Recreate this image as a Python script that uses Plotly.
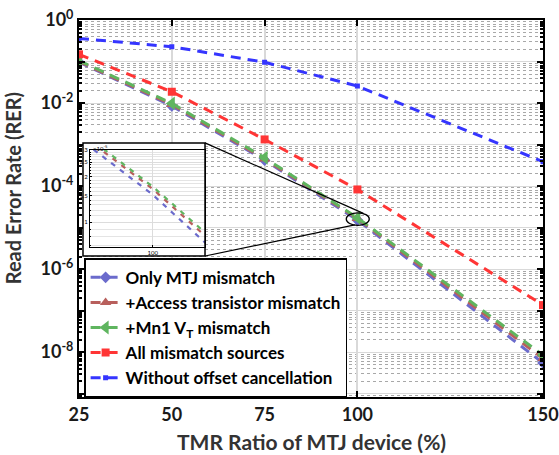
import math
import plotly.graph_objects as go

# ---------------- data ----------------
tmr = [25, 50, 75, 100, 150]
only_mtj = [0.097, 0.0085, 4.2e-4, 1.52e-5, 5.5e-9]
access_tr = [0.1, 0.0092, 4.5e-4, 1.66e-5, 7.0e-9]
mn1_vt = [0.105, 0.0098, 4.8e-4, 1.72e-5, 8.5e-9]
all_src = [0.149, 0.0187, 1.33e-3, 8.3e-5, 1.36e-7]
no_cancel = [0.36, 0.227, 0.096, 0.0257, 3.86e-4]

x_ticks = [25, 50, 75, 100, 150]
y_decades = list(range(-9, 1))
inset_yvals = [1e-5, 1.5e-5, 2e-5, 2.5e-5, 3e-5]
inset_ytext = ["1", "1.5", "2", "2.5", "3"]

names = ["Only MTJ mismatch", "+Access transistor mismatch",
         "+Mn1 V<sub>T</sub> mismatch", "All mismatch sources",
         "Without offset cancellation"]
colors = ["#6b6bcc", "#b85f5c", "#5fb55f", "#ff3535", "#3535ff"]
symbols = ["diamond", "triangle-up", "triangle-left", "square", "square"]
msizes = [9, 10, 12, 8, 5]
series = [only_mtj, access_tr, mn1_vt, all_src, no_cancel]

FONT = "Lato, 'Open Sans', sans-serif"
YMIN, YMAX = -9.08, 0.0


def ydom(v):
    """fraction of the main y-axis domain for a value on the log axis"""
    return (math.log10(v) - YMIN) / (YMAX - YMIN)


fig = go.Figure()

for i, (nm, c, s, ms, ys) in enumerate(zip(names, colors, symbols, msizes, series)):
    fig.add_trace(go.Scatter(
        x=tmr, y=ys, name=nm, mode="lines+markers",
        line=dict(color=c, width=3, dash="10px,7px"),
        marker=dict(symbol=s, size=ms, color=c),
        legendgroup=f"g{i}", xaxis="x", yaxis="y"))

# empty trace for white-box subplot
fig.add_trace(go.Scatter(x=[], y=[], xaxis="x2", yaxis="y2", showlegend=False,
                         hoverinfo="skip"))

# inset traces
for nm, c, ys in zip(names[:3], colors[:3], series[:3]):
    fig.add_trace(go.Scatter(
        x=tmr, y=ys, mode="lines", showlegend=False,
        line=dict(color=c, width=2.2, dash="5px,6px"),
        xaxis="x3", yaxis="y3"))

# ---------------- axes ----------------
y_ticktext = [f"10<sup>{e}</sup>" if e % 2 == 0 else "" for e in y_decades]
minor_vals = [k * 10.0 ** e for e in range(-10, 0) for k in range(2, 10)]

box_x = [0.0086, 0.2716]
box_y = [0.374, 0.674]

fig.update_layout(
    width=559, height=455,
    margin=dict(l=79, r=16, t=20, b=58, autoexpand=False),
    paper_bgcolor="white", plot_bgcolor="white",
    font=dict(family=FONT, color="black"),
    xaxis=dict(
        domain=[0, 1], range=[25, 150], tickmode="array", tickvals=x_ticks,
        ticktext=[str(v) for v in x_ticks], automargin=False,
        ticklabeloverflow="allow",
        tickfont=dict(size=18, weight="bold", color="#1a1a1a"),
        ticks="inside", ticklen=6, tickwidth=2, tickcolor="black",
        showline=True, linecolor="black", linewidth=2, mirror="ticks",
        showgrid=True, gridcolor="#d9d9d9", gridwidth=1.5, zeroline=False,
        anchor="y"),
    yaxis=dict(
        domain=[0, 1], type="log", range=[YMIN, YMAX], tickmode="array",
        tickvals=[10.0 ** e for e in y_decades], ticktext=y_ticktext,
        automargin=False, ticklabeloverflow="allow",
        tickfont=dict(size=18, weight="bold", color="#1a1a1a"),
        ticks="inside", ticklen=6, tickwidth=2, tickcolor="black",
        showline=True, linecolor="black", linewidth=2, mirror="ticks",
        showgrid=True, gridcolor="#d9d9d9", gridwidth=1, zeroline=False,
        minor=dict(tickmode="array", tickvals=minor_vals, ticks="inside",
                   ticklen=3, tickcolor="black", showgrid=True,
                   gridcolor="#a8a8a8", griddash="dot", gridwidth=1),
        anchor="x"),
    xaxis2=dict(domain=box_x, range=[0, 1], visible=False, anchor="y2"),
    yaxis2=dict(domain=box_y, range=[0, 1], visible=False, anchor="x2"),
    xaxis3=dict(
        domain=[0.0237, 0.2716], range=[94.5, 104.6], tickmode="array",
        tickvals=[100], ticktext=["100"], tickfont=dict(size=6),
        ticks="inside", ticklen=2, tickcolor="black", automargin=False,
        showline=True, linecolor="black", linewidth=1, mirror=True,
        showgrid=True, gridcolor="#dcdcdc", zeroline=False, anchor="y3"),
    yaxis3=dict(
        domain=[0.398, 0.655], type="log",
        range=[math.log10(6.85e-6), math.log10(3e-5)], tickmode="array",
        tickvals=inset_yvals, ticktext=inset_ytext, tickfont=dict(size=6),
        ticks="inside", ticklen=2, tickcolor="black", automargin=False,
        showline=True, linecolor="black", linewidth=1, mirror=True,
        showgrid=True, gridcolor="#dcdcdc", zeroline=False,
        minor=dict(tickmode="array", tickvals=[k * 1e-6 for k in range(6, 31)],
                   ticks="inside", ticklen=1, tickcolor="black",
                   showgrid=True, gridcolor="#e4e4e4"),
        anchor="x3"),
    legend=dict(
        x=0.011, y=0.368, xanchor="left", yanchor="top",
        bgcolor="white", bordercolor="black", borderwidth=1.5,
        font=dict(size=17, weight="bold", family=FONT, color="black"),
        tracegroupgap=0, itemwidth=30),
    showlegend=True,
)

# axis titles as annotations
fig.add_annotation(xref="paper", yref="paper", x=-0.142, y=0.554,
                   xanchor="center", yanchor="middle", showarrow=False,
                   textangle=-90, text="Read Error Rate (RER)",
                   font=dict(size=20, weight="bold", color="#333333",
                             family=FONT))
fig.add_annotation(xref="paper", yref="paper", x=0.5, y=-0.119,
                   xanchor="center", yanchor="middle", showarrow=False,
                   text="TMR Ratio of MTJ device (%)",
                   font=dict(size=21, weight="bold", color="#333333",
                             family=FONT))

# white background of inset box (drawn in the box subplot layer)
fig.add_shape(type="rect", xref="x2", yref="y2", x0=0, x1=1, y0=0, y1=1,
              fillcolor="white", line=dict(width=0), layer="below")
# inset box border
fig.add_shape(type="rect", xref="paper", yref="paper", x0=box_x[0],
              x1=box_x[1], y0=box_y[0], y1=box_y[1],
              line=dict(color="black", width=1.5), layer="above")

# zoom ellipse around TMR = 100 (x in data units, y as domain fraction)
fig.add_shape(type="circle", xref="x", yref="y domain", x0=97.0, x1=103.2,
              y0=ydom(1.13e-5), y1=ydom(2.27e-5),
              line=dict(color="black", width=1.3), layer="above")
# connecting lines from inset corners to the ellipse
corner_x = 25 + box_x[1] * 125
fig.add_shape(type="line", xref="x", yref="y domain", x0=corner_x,
              y0=box_y[1], x1=101.6, y1=ydom(2.2e-5),
              line=dict(color="black", width=1.2), layer="above")
fig.add_shape(type="line", xref="x", yref="y domain", x0=corner_x,
              y0=box_y[0], x1=99.3, y1=ydom(1.16e-5),
              line=dict(color="black", width=1.2), layer="above")

fig.add_annotation(xref="paper", yref="paper", x=0.025, y=0.676,
                   xanchor="left", yanchor="top", showarrow=False,
                   text="×10<sup>-5</sup>", font=dict(size=6, color="black"))

fig.write_html("out.html", config={"displayModeBar": False},
               post_script="document.body.style.margin='0px';"
                           "document.body.style.overflow='hidden';")
